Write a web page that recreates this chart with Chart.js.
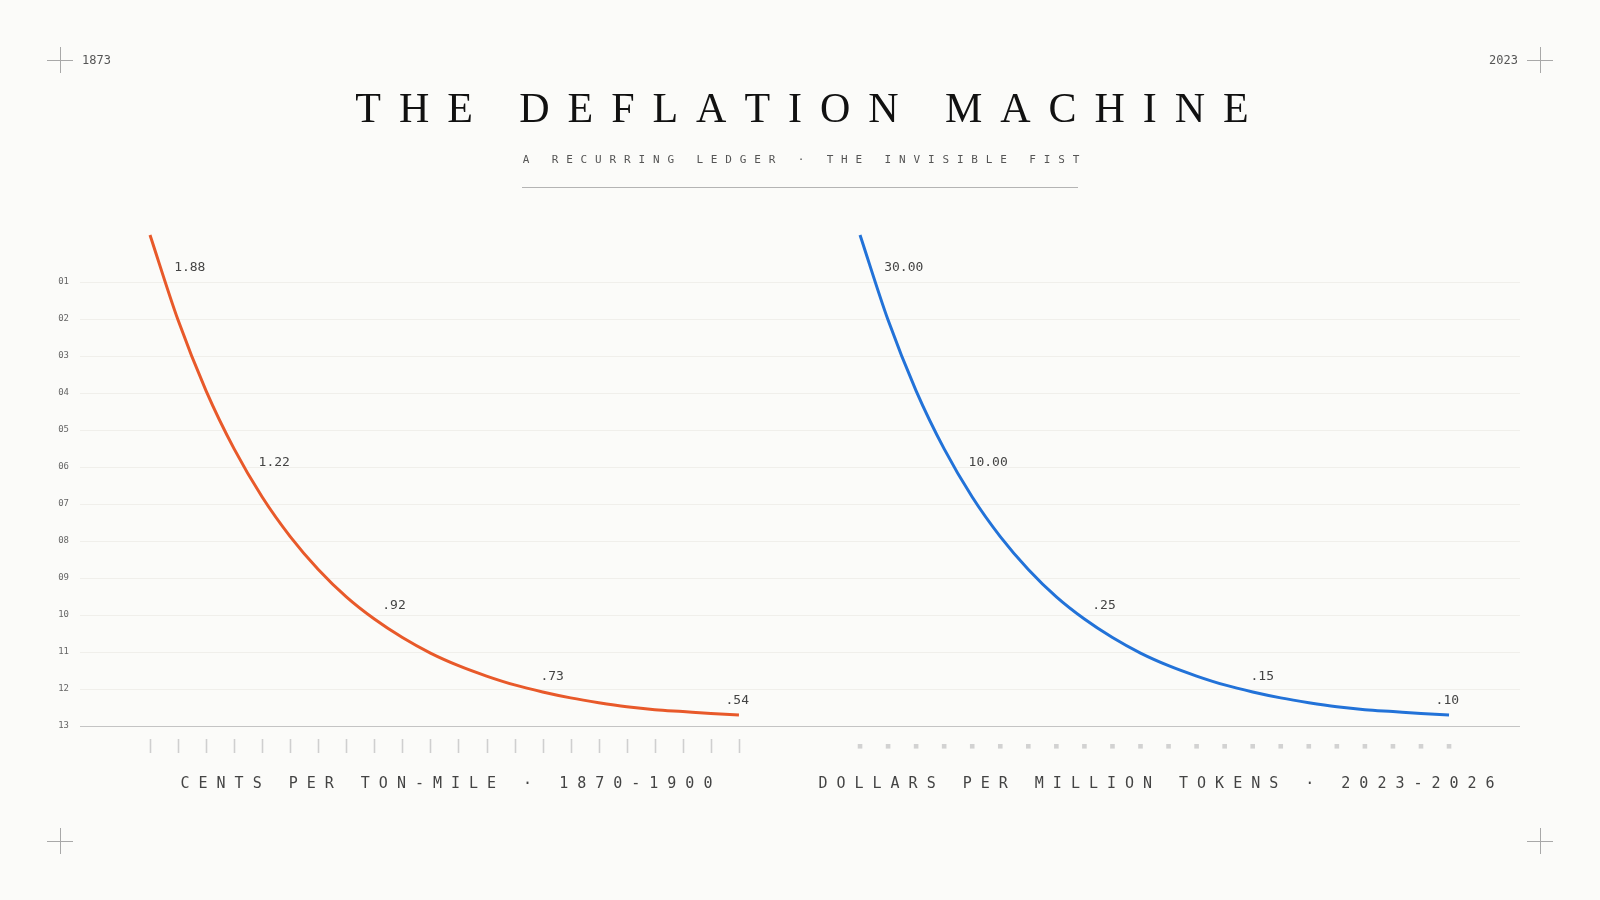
<!DOCTYPE html>
<html>
<head>
<meta charset="utf-8">
<script src="https://cdn.jsdelivr.net/npm/chart.js@4.4.1/dist/chart.umd.min.js"></script>
<style>
  html, body { margin: 0; padding: 0; background: #fbfbf9; }
  #wrap { position: relative; width: 1600px; height: 900px; }
  canvas { display: block; }
</style>
</head>
<body>
<div id="wrap"><canvas id="deflation" width="1600" height="900"></canvas></div>
<script>
// sample steps along each curve (same count on both panels)
const steps = [0, 1, 2, 3, 4, 5, 6, 7, 8, 9, 10, 11, 12, 13, 14, 15, 16, 17, 18, 19, 20, 21];

// curve height, measured in ledger rows (01 at top, 13 on the baseline)
const railRows = [-0.27, 2.03, 3.94, 5.51, 6.81, 7.88, 8.77, 9.51, 10.11, 10.61, 11.03,
    11.37, 11.65, 11.89, 12.08, 12.24, 12.37, 12.48, 12.56, 12.61, 12.66, 12.70];
const tokenRows = [-0.27, 2.03, 3.94, 5.51, 6.81, 7.88, 8.77, 9.51, 10.11, 10.61, 11.03,
    11.37, 11.65, 11.89, 12.08, 12.24, 12.37, 12.48, 12.56, 12.61, 12.66, 12.70];

// price labels and where along the curve they sit
const railLabels = ['1.88', '1.22', '.92', '.73', '.54'];
const tokenLabels = ['30.00', '10.00', '.25', '.15', '.10'];
const labelSteps = [0.54, 3.55, 7.96, 13.6, 20.2];

const rowTicks = ['01', '02', '03', '04', '05', '06', '07', '08', '09', '10', '11', '12', '13'];

const railCaption = 'CENTS PER TON-MILE \u00b7 1870-1900';
const tokenCaption = 'DOLLARS PER MILLION TOKENS \u00b7 2023-2026';
const title = 'THE DEFLATION MACHINE';
const subtitle = 'A RECURRING LEDGER \u00b7 THE INVISIBLE FIST';
const cornerLeft = '1873';
const cornerRight = '2023';

const MONO = '"DejaVu Sans Mono", "Liberation Mono", monospace';
const ORANGE = '#e8592a';
const BLUE = '#2272d8';

function spacedText(ctx, text, cx, y, spacing)
{
    const chars = text.split('');
    const widths = chars.map(function (c) { return ctx.measureText(c).width; });
    let total = widths.reduce(function (a, b) { return a + b; }, 0) + spacing * (chars.length - 1);
    let x = cx - total / 2;
    ctx.textAlign = 'left';
    chars.forEach(function (c, i) {
        ctx.fillText(c, x, y);
        x += widths[i] + spacing;
    });
}

function rowAt(rows, s)
{
    const i = Math.min(Math.floor(s), rows.length - 2);
    const t = s - i;
    return rows[i] + (rows[i + 1] - rows[i]) * t;
}

// page furniture: title, corners, captions, step ticks and price labels
const ledgerPlugin = {
    id: 'ledger',
    afterDraw(chart) {
        const ctx = chart.ctx;
        const area = chart.chartArea;
        const xr = chart.scales.x, xt = chart.scales.x2, y = chart.scales.y;
        ctx.save();

        // corner crosshairs
        ctx.strokeStyle = '#a8a8a8';
        ctx.lineWidth = 1;
        [[60, 60], [1540, 60], [60, 841], [1540, 841]].forEach(function (p) {
            ctx.beginPath();
            ctx.moveTo(p[0] - 13, p[1] + 0.5); ctx.lineTo(p[0] + 13, p[1] + 0.5);
            ctx.moveTo(p[0] + 0.5, p[1] - 13); ctx.lineTo(p[0] + 0.5, p[1] + 13);
            ctx.stroke();
        });
        ctx.fillStyle = '#555';
        ctx.font = '12px ' + MONO;
        ctx.textBaseline = 'alphabetic';
        ctx.textAlign = 'left';
        ctx.fillText(cornerLeft, 82, 64);
        ctx.textAlign = 'right';
        ctx.fillText(cornerRight, 1518, 64);

        // title block
        ctx.fillStyle = '#111';
        ctx.font = '42px "Liberation Serif", "DejaVu Serif", serif';
        spacedText(ctx, title, 802, 122, 17.95);
        ctx.fillStyle = '#555';
        ctx.font = '11px ' + MONO;
        spacedText(ctx, subtitle, 801, 163, 7.85);
        ctx.strokeStyle = '#b4b4b4';
        ctx.beginPath();
        ctx.moveTo(522, 187.5); ctx.lineTo(1078, 187.5);
        ctx.stroke();

        // step ticks under the baseline
        ctx.strokeStyle = '#cfcfcf';
        ctx.fillStyle = '#d2d2d2';
        ctx.lineWidth = 1.6;
        steps.forEach(function (s) {
            const px = Math.round(xr.getPixelForValue(s)) + 0.5;
            ctx.beginPath();
            ctx.moveTo(px, area.bottom + 13); ctx.lineTo(px, area.bottom + 27);
            ctx.stroke();
            const bx = xt.getPixelForValue(s);
            ctx.fillRect(bx - 2.3, area.bottom + 18, 4.6, 4.6);
        });

        // captions centred under each curve
        ctx.fillStyle = '#444';
        ctx.font = '15px ' + MONO;
        const rc = (xr.getPixelForValue(steps[0]) + xr.getPixelForValue(steps[steps.length - 1])) / 2;
        const tc = (xt.getPixelForValue(steps[0]) + xt.getPixelForValue(steps[steps.length - 1])) / 2;
        spacedText(ctx, railCaption, rc + 2, area.bottom + 62, 9);
        spacedText(ctx, tokenCaption, tc + 2, area.bottom + 62, 9);

        // price labels next to the curve
        ctx.fillStyle = '#444';
        ctx.font = '13px ' + MONO;
        ctx.textAlign = 'left';
        ctx.textBaseline = 'middle';
        labelSteps.forEach(function (s, i) {
            ctx.fillText(railLabels[i], xr.getPixelForValue(s) + 9, y.getPixelForValue(rowAt(railRows, s)) - 13);
            ctx.fillText(tokenLabels[i], xt.getPixelForValue(s) + 9, y.getPixelForValue(rowAt(tokenRows, s)) - 13);
        });
        ctx.restore();
    }
};

const railData = steps.map(function (s, i) { return {x: s, y: railRows[i]}; });
const tokenData = steps.map(function (s, i) { return {x: s, y: tokenRows[i]}; });

new Chart(document.getElementById('deflation').getContext('2d'), {
    type: 'line',
    data: {
        datasets: [{
            label: 'Rail freight',
            data: railData,
            xAxisID: 'x',
            borderColor: ORANGE,
            borderWidth: 3,
            pointRadius: 0,
            cubicInterpolationMode: 'monotone'
        }, {
            label: 'LLM tokens',
            data: tokenData,
            xAxisID: 'x2',
            borderColor: BLUE,
            borderWidth: 3,
            pointRadius: 0,
            cubicInterpolationMode: 'monotone'
        }]
    },
    options: {
        responsive: false,
        animation: false,
        devicePixelRatio: 1,
        layout: {
            padding: {left: 0, right: 80, top: 208, bottom: 174}
        },
        plugins: {
            legend: {display: false},
            tooltip: {enabled: false}
        },
        scales: {
            x: {type: 'linear', display: false, min: -2.496, max: 48.85},
            x2: {type: 'linear', display: false, min: -27.81, max: 23.53},
            y: {
                type: 'linear',
                reverse: true,
                min: -1,
                max: 13,
                border: {display: false},
                grid: {
                    drawTicks: false,
                    lineWidth: 1,
                    color: function (c) {
                        return c.tick && c.tick.value === 13 ? '#c4c4c4' : '#f0efeb';
                    }
                },
                ticks: {
                    stepSize: 1,
                    padding: 11,
                    color: '#666',
                    font: {family: MONO, size: 9},
                    callback: function (v) { return rowTicks[v - 1]; }
                },
                afterBuildTicks: function (scale) {
                    scale.ticks = scale.ticks.filter(function (t) { return t.value >= 1 && t.value <= 13; });
                },
                afterFit: function (scale) {
                    scale.width = 80;
                }
            }
        }
    },
    plugins: [ledgerPlugin]
});
</script>
</body>
</html>
